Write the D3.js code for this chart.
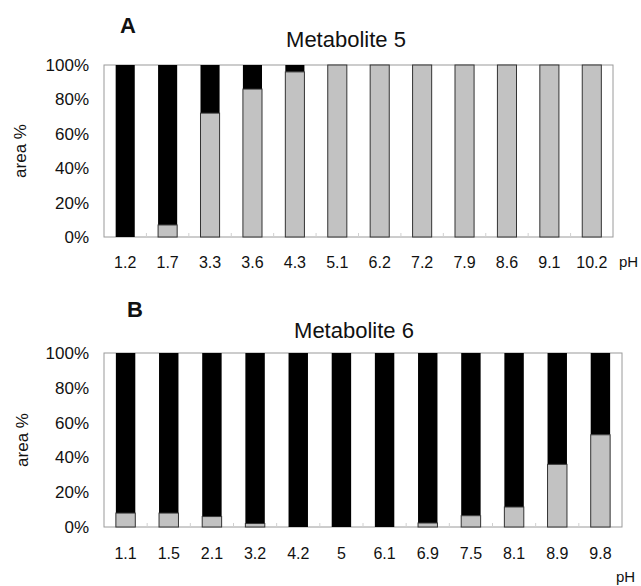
<!DOCTYPE html>
<html>
<head>
<meta charset="utf-8">
<script src="https://cdn.jsdelivr.net/npm/d3@7"></script>
<style>
  body { margin: 0; background: #fff; }
  svg { font-family: "Liberation Sans", Arial, sans-serif; }
</style>
</head>
<body>
<svg id="viz" width="641" height="586"></svg>
<script>
// pH values and grey fraction (%) of each bar; black part is the rest
const phA = ["1.2", "1.7", "3.3", "3.6", "4.3", "5.1", "6.2", "7.2", "7.9", "8.6", "9.1", "10.2"];
const greyA = [0, 7, 72, 86, 96, 100, 100, 100, 100, 100, 100, 100];

const phB = ["1.1", "1.5", "2.1", "3.2", "4.2", "5", "6.1", "6.9", "7.5", "8.1", "8.9", "9.8"];
const greyB = [8, 8, 6, 2, 0, 0, 0, 2.3, 6.5, 11.5, 36, 53];

const yTicks = [0, 20, 40, 60, 80, 100];

const svg = d3.select("#viz");

function panel(opt) {
  const { cats, grey, left, right, top, bottom } = opt;
  const g = svg.append("g");

  const x = d3.scaleBand().domain(cats).range([left, right]).paddingInner(0.55).paddingOuter(0.275);
  const xb = d3.scaleBand().domain(cats).range([left, right]);
  const y = d3.scaleLinear().domain([0, 100]).range([bottom, top]);

  // plot frame
  g.append("rect")
    .attr("x", left).attr("y", top)
    .attr("width", right - left).attr("height", bottom - top)
    .attr("fill", "none").attr("stroke", "#9a9a9a").attr("stroke-width", 1);

  // small tick marks between categories
  g.selectAll("line.sep")
    .data(cats.slice(1))
    .enter().append("line")
    .attr("x1", d => xb(d)).attr("x2", d => xb(d))
    .attr("y1", bottom).attr("y2", bottom - 4)
    .attr("stroke", "#d0d0d0");

  const data = cats.map((c, i) => ({ cat: c, grey: grey[i] }));

  // black part (top)
  g.selectAll("rect.black")
    .data(data.filter(d => d.grey < 100))
    .enter().append("rect")
    .attr("x", d => x(d.cat)).attr("width", x.bandwidth())
    .attr("y", y(100)).attr("height", d => y(d.grey) - y(100))
    .attr("fill", "#000");

  // grey part (bottom)
  g.selectAll("rect.grey")
    .data(data.filter(d => d.grey > 0))
    .enter().append("rect")
    .attr("x", d => x(d.cat)).attr("width", x.bandwidth())
    .attr("y", d => y(d.grey)).attr("height", d => y(0) - y(d.grey))
    .attr("fill", "#c2c2c2").attr("stroke", "#333").attr("stroke-width", 1);

  // y axis
  const yAxis = g.append("g")
    .attr("transform", `translate(${left},0)`)
    .call(d3.axisLeft(y).tickValues(yTicks).tickFormat(d => d + "%").tickSize(0).tickPadding(15));
  yAxis.select(".domain").remove();
  yAxis.selectAll("text").attr("font-size", 17).attr("fill", "#111").attr("font-family", null);

  // x axis
  const xAxis = g.append("g")
    .attr("transform", `translate(0,${bottom})`)
    .call(d3.axisBottom(xb).tickSize(0).tickPadding(opt.xPad));
  xAxis.select(".domain").remove();
  xAxis.selectAll("text").attr("font-size", 16).attr("fill", "#111").attr("font-family", null);

  // y label
  g.append("text")
    .attr("transform", `translate(${opt.ylabX},${(top + bottom) / 2}) rotate(-90)`)
    .attr("text-anchor", "middle").attr("dy", "0.35em")
    .attr("font-size", 17).attr("fill", "#111")
    .text("area %");

  // letter
  g.append("text")
    .attr("x", opt.letterX).attr("y", opt.letterY)
    .attr("font-size", 22).attr("font-weight", "bold").attr("fill", "#111")
    .text(opt.letter);

  // title
  g.append("text")
    .attr("x", opt.titleX).attr("y", opt.titleY)
    .attr("text-anchor", "middle")
    .attr("font-size", 22).attr("fill", "#111")
    .text(opt.title);

  // pH label
  g.append("text")
    .attr("x", opt.phX).attr("y", opt.phY)
    .attr("font-size", 15).attr("fill", "#111")
    .text("pH");
}

panel({
  cats: phA, grey: greyA,
  left: 104, right: 613, top: 65, bottom: 237,
  xPad: 20, ylabX: 20,
  letter: "A", letterX: 120, letterY: 33,
  title: "Metabolite 5", titleX: 346, titleY: 47,
  phX: 619, phY: 267
});

panel({
  cats: phB, grey: greyB,
  left: 104, right: 622, top: 353, bottom: 527,
  xPad: 21, ylabX: 22,
  letter: "B", letterX: 127, letterY: 317,
  title: "Metabolite 6", titleX: 354, titleY: 338,
  phX: 616, phY: 582
});
</script>
</body>
</html>
